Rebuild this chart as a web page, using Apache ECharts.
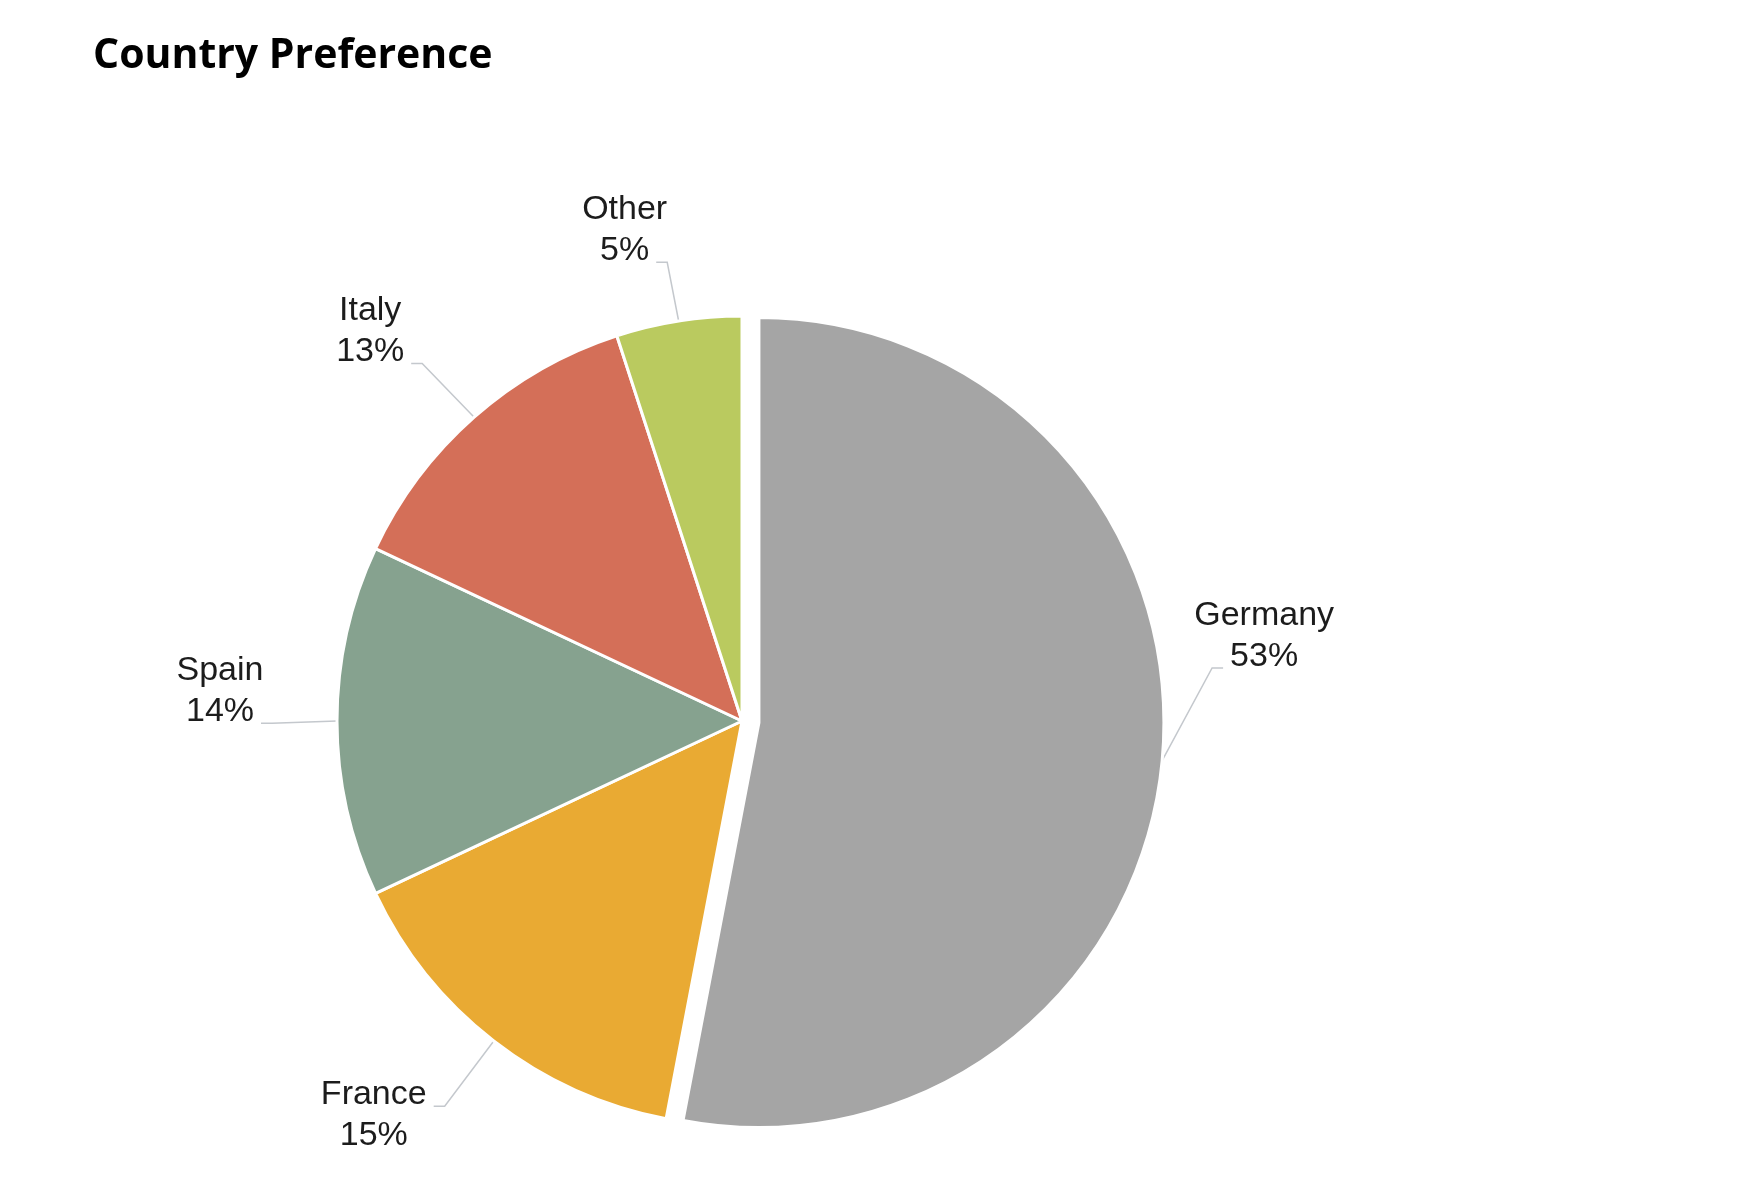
<!DOCTYPE html>
<html>
<head>
<meta charset="utf-8">
<title>Country Preference</title>
<script src="https://cdn.jsdelivr.net/npm/echarts@6/dist/echarts.min.js"></script>
<style>
    html, body { margin: 0; padding: 0; background: #fff; }
    #chart { width: 1754px; height: 1178px; }
</style>
</head>
<body>
<div id="chart"></div>
<script>
(function () {

    // data
    var COUNTRIES = ['Germany', 'France', 'Spain', 'Italy', 'Other'];
    var SHARES = [53, 15, 14, 13, 5];
    var EXPLODED = 'Germany';

    // look
    var SLICE_COLORS = ['#A5A5A5', '#E9AA33', '#86A28F', '#D46F58', '#BACA5F'];
    var PIE_CENTER = [742, 721];
    var PIE_RADIUS = 405;
    var EXPLODE_OFFSET = 17;
    var LABEL_FONT = 34;
    var LABEL_LINE_H = 41;
    var LEADER_GAP = 7;
    var LEADER_STUB = 11;

    // where each label sits, relative to the point where its leader leaves the slice
    var LABEL_SHIFT = [
        [102, -125],
        [-120, 74],
        [-117, -30],
        [-104, -86],
        [-54, -91]
    ];

    var CHART = echarts.init(document.getElementById('chart'));

    var MEASURE = document.createElement('canvas').getContext('2d');
    MEASURE.font = LABEL_FONT + 'px "Liberation Sans"';

    var EXPLODED_INDEX = COUNTRIES.indexOf(EXPLODED);

    // how far the exploded slice moves out, along its own middle angle
    function explodeShift(idx) {
        var total = 0, before = 0;
        for (var k = 0; k < SHARES.length; k++) {
            total += SHARES[k];
            if (k < idx) {
                before += SHARES[k];
            }
        }
        var mid = (before + SHARES[idx] / 2) / total * Math.PI * 2;
        return [Math.sin(mid) * EXPLODE_OFFSET, -Math.cos(mid) * EXPLODE_OFFSET];
    }

    var SHIFT = explodeShift(EXPLODED_INDEX);

    var hidden = { color: 'rgba(0,0,0,0)', borderWidth: 0 };

    // main pie: every slice but the exploded one, plus all labels
    var mainData = [];
    // exploded slice, drawn on its own moved pie
    var explodedData = [];
    for (var i = 0; i < COUNTRIES.length; i++) {
        var solid = { color: SLICE_COLORS[i], borderColor: '#ffffff', borderWidth: 3 };
        mainData.push({
            name: COUNTRIES[i],
            value: SHARES[i],
            itemStyle: i === EXPLODED_INDEX ? hidden : solid
        });
        explodedData.push({
            name: COUNTRIES[i],
            value: SHARES[i],
            itemStyle: i === EXPLODED_INDEX ? solid : hidden
        });
    }

    //
    function placeLabel(p) {
        var a = p.labelLinePoints && p.labelLinePoints[0];
        if (!a) {
            return {};
        }
        if (p.dataIndex === EXPLODED_INDEX) {
            a = [a[0] + SHIFT[0], a[1] + SHIFT[1]];
        }
        var shift = LABEL_SHIFT[p.dataIndex];
        var cx = a[0] + shift[0];
        var cy = a[1] + shift[1];

        var lines = String(p.text).split('\n');
        var below = a[1] > cy;
        var line = below ? lines[lines.length - 1] : lines[0];
        var lw = MEASURE.measureText(line).width;

        var sy = cy + (below ? LABEL_LINE_H / 2 : -LABEL_LINE_H / 2) + 0.3465 * LABEL_FONT;
        var toRight = a[0] > cx;
        var sx = toRight ? cx + lw / 2 + LEADER_GAP : cx - lw / 2 - LEADER_GAP;
        var sx2 = sx + (toRight ? LEADER_STUB : -LEADER_STUB);

        return {
            x: cx,
            y: cy,
            align: 'center',
            verticalAlign: 'middle',
            labelLinePoints: [[a[0], a[1]], [sx2, sy], [sx, sy]]
        };
    }

    var option = {
        backgroundColor: '#ffffff',
        animation: false,
        title: {
            text: 'Country Preference',
            left: 93,
            top: 34,
            padding: 0,
            textStyle: {
                fontFamily: 'Open Sans',
                fontWeight: 'bold',
                fontSize: 41,
                lineHeight: 45,
                color: '#000000'
            }
        },
        series: [
            {
                type: 'pie',
                center: PIE_CENTER,
                radius: PIE_RADIUS,
                startAngle: 90,
                clockwise: true,
                avoidLabelOverlap: false,
                silent: true,
                label: {
                    show: true,
                    position: 'outside',
                    formatter: function (p) {
                        return p.name + '\n' + Math.round(p.percent) + '%';
                    },
                    fontFamily: 'Liberation Sans',
                    fontSize: LABEL_FONT,
                    lineHeight: LABEL_LINE_H,
                    color: '#1c1c1c'
                },
                labelLine: {
                    show: true,
                    length: 20,
                    length2: 10,
                    smooth: false,
                    lineStyle: {
                        color: '#C4C8CD',
                        width: 1.5
                    }
                },
                labelLayout: placeLabel,
                emphasis: { disabled: true },
                data: mainData
            },
            {
                type: 'pie',
                center: [PIE_CENTER[0] + SHIFT[0], PIE_CENTER[1] + SHIFT[1]],
                radius: PIE_RADIUS,
                startAngle: 90,
                clockwise: true,
                silent: true,
                label: { show: false },
                labelLine: { show: false },
                emphasis: { disabled: true },
                data: explodedData
            }
        ]
    };

    CHART.setOption(option);

}());
</script>
</body>
</html>
